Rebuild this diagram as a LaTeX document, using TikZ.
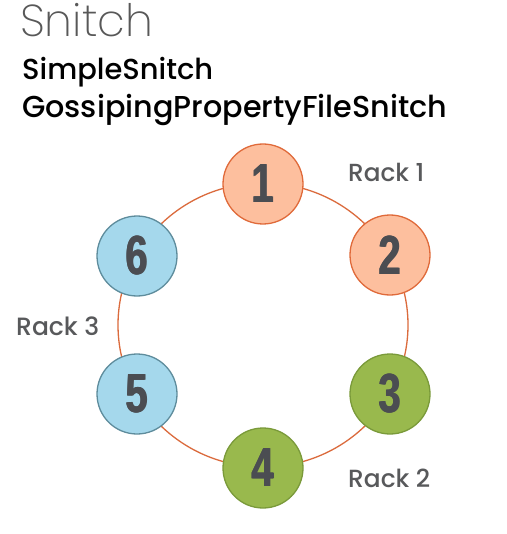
\documentclass[tikz,border=0pt]{standalone}
\usepackage{fontspec}
\setmainfont{Poppins Medium}
\newfontfamily\lightfont{Poppins ExtraLight}
\newfontfamily\digitfont{Liberation Sans}
\usetikzlibrary{positioning}
\definecolor{ringc}{HTML}{DB6B3D}
\definecolor{orfill}{HTML}{FDBF9E}
\definecolor{ordraw}{HTML}{E06A3A}
\definecolor{blfill}{HTML}{A5D8EC}
\definecolor{bldraw}{HTML}{5E8C9C}
\definecolor{grfill}{HTML}{99B94D}
\definecolor{grdraw}{HTML}{7A9A3A}
\definecolor{digitc}{HTML}{4B4D52}
\definecolor{rackc}{HTML}{58595B}
\definecolor{titlec}{HTML}{585858}
\tikzset{
  ringnode/.style={circle, minimum size=80pt, inner sep=0pt, line width=1.3pt,
    font=\digitfont\bfseries\fontsize{54}{54}\selectfont, text=digitc},
  orange/.style={ringnode, fill=orfill, draw=ordraw},
  blue/.style={ringnode, fill=blfill, draw=bldraw},
  green/.style={ringnode, fill=grfill, draw=grdraw},
  racklabel/.style={anchor=base west, inner sep=0pt, text=rackc},
  titletext/.style={anchor=base west, inner sep=0pt},
}
\newcommand{\dg}[1]{\scalebox{0.74}[1.02]{\rlap{#1}\kern1.1pt\rlap{#1}\kern1.1pt#1}}
\begin{document}
\begin{tikzpicture}[x=1pt,y=-1pt]
\useasboundingbox (0,0) rectangle (506,534);
\fill[white] (0,0) rectangle (506,534);
% titles
\node[titletext, text=titlec] (t1) at (20,37) {\resizebox{133pt}{!}{\lightfont Snitch}};
\node[titletext, text=black] (t2) at (22,80) {\resizebox{191pt}{!}{SimpleSnitch}};
\node[titletext, text=black] (t3) at (22,118) {\resizebox{425pt}{!}{GossipingPropertyFileSnitch}};
% ring
\coordinate (c) at (263,325);
\draw[ringc, line width=1.3pt] (c) ellipse [x radius=145, y radius=142];
% nodes
\node[orange] (n1) at (263,184) {\dg{1}};
\node[orange] (n2) at (390,255) {\dg{2}};
\node[green]  (n3) at (390,394) {\dg{3}};
\node[green]  (n4) at (263,468) {\dg{4}};
\node[blue]   (n5) at (137,394) {\dg{5}};
\node[blue]   (n6) at (137,256) {\dg{6}};
% rack labels
\node[racklabel] (r1) at (348,182) {\resizebox{76pt}{!}{Rack 1}};
\node[racklabel] (r2) at (348,487) {\resizebox{82pt}{!}{Rack 2}};
\node[racklabel] (r3) at (16,335) {\resizebox{83pt}{!}{Rack 3}};
\end{tikzpicture}
\end{document}
